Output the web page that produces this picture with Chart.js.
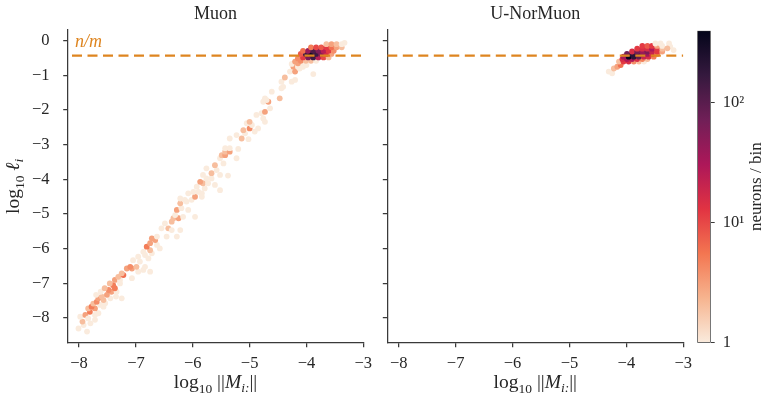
<!DOCTYPE html>
<html lang="en">
<head>
<meta charset="UTF-8">
<title>Muon vs U-NorMuon</title>
<script src="https://cdn.jsdelivr.net/npm/chart.js"></script>
<style>
  body { margin: 0; background: #fff; }
  #fig { position: relative; width: 765px; height: 398px; overflow: hidden; }
  canvas { position: absolute; top: 0; }
</style>
</head>
<body>
<div id="fig">
  <canvas id="muonChart" width="378" height="398" style="left:0"></canvas>
  <canvas id="norChart" width="320" height="398" style="left:372px"></canvas>
  <canvas id="cbarChart" width="75" height="398" style="left:690px"></canvas>
</div>
<script>
// axes
const xTicks = [-8, -7, -6, -5, -4, -3];
const yTicks = [-8, -7, -6, -5, -4, -3, -2, -1, 0];
const X_MIN = -8.2, X_MAX = -3, Y_MIN = -8.71, Y_MAX = 0.31;
const nOverM = -0.43;
const cbTicks = [1, 10, 100];
const cbLabels = ['1', '10\u00b9', '10\u00b2'];
const CB_MAX = 398;

// Muon: the long diagonal band (hex centres, log10 values, count per bin)
const muonBandX = [-8.01,-7.86,-7.92,-7.94,-7.80,-7.72,-7.98,-7.89,-7.84,-7.72,-7.66,-7.81,-7.84,-7.72,-7.78,-7.63,-7.57,-7.75,-7.69,-7.54,
  -7.66,-7.57,-7.45,-7.60,-7.70,-7.51,-7.35,-7.25,-7.62,-7.43,-7.34,-7.48,-7.55,-7.37,-7.40,-7.46,-7.28,-7.37,-7.28,-7.31,
  -7.07,-7.22,-7.25,-6.96,-6.87,-6.75,-7.16,-7.07,-7.10,-6.99,-6.84,-6.93,-7.05,-6.78,-6.96,-6.84,-6.72,-6.87,-6.75,-6.58,
  -6.81,-6.63,-6.75,-6.66,-6.72,-6.63,-6.46,-6.28,-6.55,-6.43,-6.37,-6.22,-6.49,-6.37,-6.34,-6.25,-6.17,-5.96,-6.31,-6.28,
  -6.20,-6.08,-6.22,-6.11,-6.14,-6.02,-6.22,-5.96,-5.84,-6.08,-5.84,-5.99,-5.90,-5.52,-5.79,-5.93,-5.61,-5.82,-5.73,-5.87,
  -5.76,-5.67,-5.82,-5.52,-5.38,-5.67,-5.58,-5.76,-5.61,-5.46,-5.52,-5.23,-5.49,-5.43,-5.43,-5.35,-5.43,-5.35,-5.20,-5.35,
  -5.14,-5.02,-5.23,-5.08,-4.91,-5.11,-5.00,-4.85,-4.96,-5.05,-5.00,-4.73,-4.76,-4.88,-4.79,-4.73,-4.64,-4.76,-4.67,-4.70,
  -4.73,-4.47,-4.61,-4.44,-4.41,-4.44,-4.26,-4.20,-4.38,-4.29,-4.20,-3.88,-4.17,-4.12,-4.23,-4.15,-4.06,-4.00,-4.26,-4.06,
  -4.15,-4.20,-4.15];
const muonBandY = [-8.30,-8.39,-8.20,-8.10,-8.15,-8.05,-7.96,-7.91,-8.01,-7.91,-7.86,-7.82,-7.72,-7.72,-7.67,-7.62,-7.67,-7.58,-7.53,-7.57,
  -7.43,-7.48,-7.43,-7.38,-7.33,-7.33,-7.38,-7.43,-7.24,-7.24,-7.24,-7.19,-7.14,-7.14,-7.05,-7.00,-7.00,-6.90,-6.90,-6.81,
  -6.85,-6.76,-6.71,-6.66,-6.61,-6.66,-6.57,-6.57,-6.52,-6.52,-6.52,-6.37,-6.33,-6.28,-6.23,-6.18,-6.13,-6.09,-6.04,-5.99,
  -5.94,-5.89,-5.84,-5.75,-5.70,-5.65,-5.65,-5.65,-5.41,-5.41,-5.46,-5.46,-5.27,-5.22,-5.12,-5.12,-5.08,-5.08,-5.03,-4.88,
  -4.83,-4.88,-4.69,-4.64,-4.59,-4.59,-4.55,-4.50,-4.50,-4.40,-4.40,-4.36,-4.36,-4.31,-4.26,-4.21,-4.16,-4.11,-4.11,-4.07,
  -3.97,-3.97,-3.87,-3.87,-3.89,-3.82,-3.73,-3.68,-3.59,-3.54,-3.39,-3.39,-3.30,-3.30,-3.20,-3.20,-3.10,-3.10,-3.12,-2.82,
  -2.82,-2.84,-2.72,-2.67,-2.62,-2.58,-2.53,-2.53,-2.43,-2.38,-2.34,-2.34,-2.24,-2.14,-2.09,-2.05,-1.95,-1.76,-1.76,-1.71,
  -1.66,-1.66,-1.47,-1.37,-1.33,-1.18,-1.18,-1.13,-1.06,-0.89,-0.89,-0.96,-0.80,-0.80,-0.75,-0.75,-0.75,-0.70,-0.67,-0.67,
  -0.65,-0.60,-0.51];
const muonBandN = [1,1,1,2,1,1,1,3,1,1,1,5,2,3,5,1,1,2,4,1,
  3,2,1,2,1,3,1,1,1,3,1,4,2,5,5,2,1,3,1,2,
  1,6,2,1,1,1,3,3,4,2,1,1,1,1,1,1,1,1,2,1,
  5,1,3,3,3,1,1,1,1,2,1,1,1,2,2,3,1,1,1,3,
  1,1,2,1,1,1,1,3,1,1,1,1,1,1,1,1,1,2,1,3,
  1,1,1,1,1,2,1,1,2,1,1,1,2,3,2,3,1,1,1,1,
  2,1,1,1,1,2,4,1,1,1,2,1,1,1,1,3,1,1,3,1,
  1,2,1,1,1,1,1,1,2,1,3,1,3,1,3,1,1,1,1,1,
  3,3,4];

// Muon: dense cluster near n/m
const muonCoreX = [-4.10,-4.01,-3.92,-3.83,
  -4.06,-3.97,-3.88,-3.79,-3.70,-3.61,
  -4.10,-4.01,-3.92,-3.83,-3.74,-3.65,-3.56,
  -4.06,-3.97,-3.88,-3.79,-3.70,-3.61,-3.52,
  -3.92,-3.83,-3.74,-3.65,-3.56,-3.47,-3.38,
  -3.65,-3.56,-3.47,-3.38,-3.33];
const muonCoreY = [-0.58,-0.58,-0.58,-0.58,
  -0.48,-0.48,-0.48,-0.48,-0.48,-0.48,
  -0.38,-0.38,-0.38,-0.38,-0.38,-0.38,-0.38,
  -0.29,-0.29,-0.29,-0.29,-0.29,-0.29,-0.29,
  -0.19,-0.19,-0.19,-0.19,-0.19,-0.19,-0.19,
  -0.10,-0.10,-0.10,-0.10,-0.06];
const muonCoreN = [4,2,2,1,
  12,60,150,25,10,2,
  8,150,320,150,50,15,3,
  6,40,120,60,25,12,4,
  5,10,8,12,6,3,2,
  2,3,2,1,1];

// U-NorMuon: single cluster
const norX = [-4.31,-4.25,-4.22,-4.16,-4.10,
  -4.13,-4.05,-3.96,-3.87,-3.78,-3.69,
  -4.07,-3.99,-3.90,-3.81,-3.72,-3.63,
  -4.05,-3.96,-3.87,-3.78,-3.69,-3.61,-3.52,
  -3.99,-3.90,-3.81,-3.72,-3.63,-3.55,-3.46,
  -3.90,-3.81,-3.72,-3.63,-3.55,-3.46,-3.37,
  -3.81,-3.72,-3.63,-3.55,-3.46,-3.37,
  -3.72,-3.63,-3.55,-3.46,-3.37,
  -3.49,-3.40,-3.25,-3.23,-3.17,-3.28];
const norY = [-0.89,-0.94,-0.80,-0.75,-0.70,
  -0.60,-0.60,-0.60,-0.60,-0.60,-0.60,
  -0.53,-0.53,-0.53,-0.53,-0.53,-0.53,
  -0.46,-0.46,-0.46,-0.46,-0.46,-0.46,-0.46,
  -0.38,-0.38,-0.38,-0.38,-0.38,-0.38,-0.38,
  -0.31,-0.31,-0.31,-0.31,-0.31,-0.31,-0.31,
  -0.23,-0.23,-0.23,-0.23,-0.23,-0.23,
  -0.15,-0.15,-0.15,-0.15,-0.15,
  -0.08,-0.08,-0.08,-0.17,-0.27,-0.22];
const norN = [1,1,2,3,6,
  2,12,15,4,2,1,
  15,30,30,15,5,2,
  35,400,200,90,20,15,5,
  70,200,150,70,35,15,5,
  15,70,40,60,20,12,3,
  12,15,15,30,12,2,
  12,8,12,3,1,
  1,1,1,1,1,2];

const SERIF = '"Liberation Serif", "DejaVu Serif", serif';
const TEXT = '#262626';
const SPINE = '#3a3a3a';
const ORANGE = '#de8520';
const ROCKET_R = ['#faebdd', '#f6b48f', '#f37651', '#e13342', '#ad1759', '#701f57', '#35193e', '#03051a'];

function hex2rgb(h) { return [1, 3, 5].map(i => parseInt(h.substr(i, 2), 16)); }
function countColor(n) {
  let t = Math.log10(n) / Math.log10(CB_MAX);
  t = Math.max(0, Math.min(1, t)) * (ROCKET_R.length - 1);
  const i = Math.min(Math.floor(t), ROCKET_R.length - 2), f = t - i;
  const a = hex2rgb(ROCKET_R[i]), b = hex2rgb(ROCKET_R[i + 1]);
  return 'rgb(' + a.map((v, k) => Math.round(v + (b[k] - v) * f)).join(',') + ')';
}
const fmt = v => v < 0 ? '\u2212' + Math.abs(v) : String(v);

function hexSet(xs, ys, ns) {
  return {
    type: 'scatter',
    data: xs.map((x, i) => ({ x: x, y: ys[i] })),
    backgroundColor: ns.map(countColor),
    pointRadius: 2.9, pointHoverRadius: 2.9, pointBorderWidth: 0
  };
}
function refLine(offset) {
  return {
    type: 'line',
    data: [{ x: X_MIN, y: nOverM }, { x: X_MAX, y: nOverM }],
    borderColor: ORANGE, borderWidth: 2.2, borderDash: [10, 5.5], borderDashOffset: offset,
    pointRadius: 0, fill: false
  };
}

// rich text: parts = [{t, s, it, dy, c}]
function drawRich(ctx, parts, x, y, rot, align) {
  ctx.save();
  ctx.translate(x, y);
  ctx.rotate(rot || 0);
  const font = p => (p.it ? 'italic ' : '') + p.s + 'px ' + SERIF;
  let w = 0;
  parts.forEach(p => { ctx.font = font(p); p.w = ctx.measureText(p.t).width; w += p.w; });
  let cx = align === 'left' ? 0 : -w / 2;
  ctx.textBaseline = 'alphabetic';
  ctx.textAlign = 'left';
  parts.forEach(p => {
    ctx.font = font(p);
    ctx.fillStyle = p.c || TEXT;
    ctx.fillText(p.t, cx, p.dy || 0);
    cx += p.w;
  });
  ctx.restore();
}
function textPlugin(items) {
  return {
    id: 'richText',
    afterDraw(chart) {
      items.forEach(it => {
        const [x, y] = it.pos(chart);
        drawRich(chart.ctx, it.parts, x, y, it.rot, it.align);
      });
    }
  };
}
const xLabelParts = [{ t: 'log', s: 19.5 }, { t: '10', s: 13.5, dy: 4.5 }, { t: ' ||', s: 19.5 },
  { t: 'M', s: 19.5, it: true }, { t: 'i:', s: 13.5, it: true, dy: 4 }, { t: '||', s: 19.5 }];
const midX = c => (c.chartArea.left + c.chartArea.right) / 2;

function panelScales(yLabels, yWidth) {
  const grid = { drawOnChartArea: false, drawTicks: true, tickLength: 4.5, color: SPINE, lineWidth: 1.25 };
  const border = { display: true, color: SPINE, width: 1.25 };
  return {
    x: {
      type: 'linear', min: X_MIN, max: X_MAX,
      afterBuildTicks: s => { s.ticks = xTicks.map(v => ({ value: v })); },
      afterFit: s => { s.height = 55.3; s.paddingLeft = 0; s.paddingRight = 0; },
      grid: grid, border: border,
      ticks: { font: { family: SERIF, size: 16.5 }, color: TEXT, padding: 7, autoSkip: false, maxRotation: 0, callback: v => fmt(v) }
    },
    y: {
      type: 'linear', min: Y_MIN, max: Y_MAX,
      afterBuildTicks: s => { s.ticks = yTicks.map(v => ({ value: v })); },
      afterFit: s => { s.width = yWidth; s.paddingTop = 0; s.paddingBottom = 0; },
      grid: grid, border: border,
      ticks: { font: { family: SERIF, size: 16.5 }, color: TEXT, padding: 13.7, autoSkip: false, callback: v => yLabels ? fmt(v) : '' }
    }
  };
}
const common = {
  responsive: false, animation: false, events: [],
  plugins: { legend: { display: false }, tooltip: { enabled: false } }
};

new Chart(document.getElementById('muonChart'), {
  type: 'scatter',
  data: { datasets: [refLine(11.2), hexSet(muonCoreX, muonCoreY, muonCoreN), hexSet(muonBandX, muonBandY, muonBandN)] },
  options: Object.assign({}, common, {
    layout: { padding: { top: 30, right: 14.7, bottom: 0, left: 0 } },
    scales: panelScales(true, 67.7)
  }),
  plugins: [textPlugin([
    { pos: c => [midX(c), 18.5], parts: [{ t: 'Muon', s: 18 }] },
    { pos: c => [midX(c), 388], parts: xLabelParts },
    { pos: c => [19, (c.chartArea.top + c.chartArea.bottom) / 2], rot: -Math.PI / 2,
      parts: [{ t: 'log', s: 19.5 }, { t: '10', s: 13.5, dy: 4.5 }, { t: ' ', s: 19.5 }, { t: '\u2113', s: 19.5, it: true }, { t: 'i', s: 13.5, it: true, dy: 4 }] },
    { pos: c => [c.scales.x.getPixelForValue(-8.07), c.scales.y.getPixelForValue(-0.18)], align: 'left',
      parts: [{ t: 'n/m', s: 18, it: true, c: ORANGE }] }
  ])]
});

new Chart(document.getElementById('norChart'), {
  type: 'scatter',
  data: { datasets: [refLine(0), hexSet(norX, norY, norN)] },
  options: Object.assign({}, common, {
    layout: { padding: { top: 30, right: 8.7, bottom: 0, left: 0 } },
    scales: panelScales(false, 15.3)
  }),
  plugins: [textPlugin([
    { pos: c => [midX(c), 18.5], parts: [{ t: 'U-NorMuon', s: 18 }] },
    { pos: c => [midX(c), 388], parts: xLabelParts }
  ])]
});

new Chart(document.getElementById('cbarChart'), {
  type: 'bar',
  data: {
    labels: [''],
    datasets: [{
      data: [[1, CB_MAX]],
      backgroundColor: c => {
        const a = c.chart.chartArea;
        if (!a) return null;
        const g = c.chart.ctx.createLinearGradient(0, a.bottom, 0, a.top);
        ROCKET_R.forEach((col, i) => g.addColorStop(i / (ROCKET_R.length - 1), col));
        return g;
      },
      borderColor: SPINE, borderWidth: 1, borderSkipped: false,
      barPercentage: 1, categoryPercentage: 1
    }]
  },
  options: Object.assign({}, common, {
    layout: { padding: { top: 30.7, right: 0, bottom: 55.3, left: 7.3 } },
    scales: {
      x: { display: false },
      y: {
        type: 'logarithmic', position: 'right', min: 1, max: CB_MAX,
        afterBuildTicks: s => { s.ticks = cbTicks.map(v => ({ value: v })); },
        afterFit: s => { s.width = 54.3; s.paddingTop = 0; s.paddingBottom = 0; },
        grid: { drawOnChartArea: false, drawTicks: true, tickLength: 4, color: SPINE, lineWidth: 1 },
        border: { display: false },
        ticks: { font: { family: SERIF, size: 16.5 }, color: TEXT, padding: 8, autoSkip: false, callback: (v, i) => cbLabels[i] }
      }
    }
  }),
  plugins: [textPlugin([
    { pos: c => [71, (c.chartArea.top + c.chartArea.bottom) / 2], rot: -Math.PI / 2, parts: [{ t: 'neurons / bin', s: 17 }] }
  ])]
});
</script>
</body>
</html>
